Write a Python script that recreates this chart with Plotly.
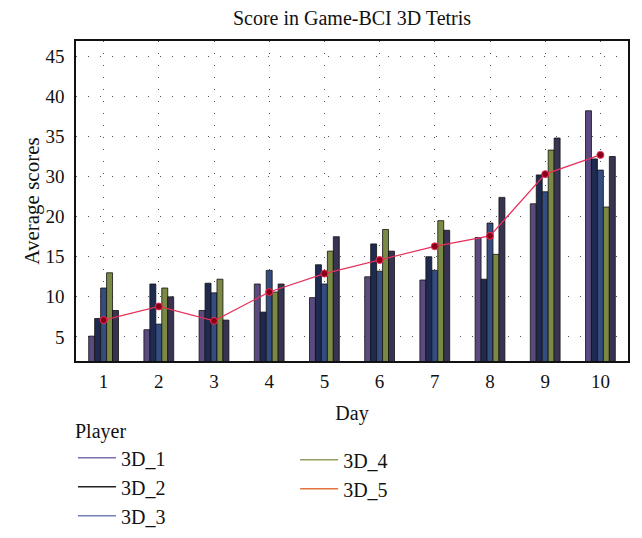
import plotly.graph_objects as go

days = [1, 2, 3, 4, 5, 6, 7, 8, 9, 10]
players = ["3D_1", "3D_2", "3D_3", "3D_4", "3D_5"]
scores_3d_1 = [5.1, 5.9, 8.3, 11.6, 9.9, 12.5, 12.1, 17.4, 21.6, 33.2]
scores_3d_2 = [7.3, 11.6, 11.7, 8.1, 14.0, 16.6, 15.0, 12.2, 25.2, 27.2]
scores_3d_3 = [11.1, 6.6, 10.5, 13.3, 11.6, 13.2, 13.3, 19.2, 23.1, 25.8]
scores_3d_4 = [13.0, 11.1, 12.2, 10.6, 15.7, 18.4, 19.5, 15.3, 28.3, 21.2]
scores_3d_5 = [8.3, 10.0, 7.1, 11.6, 17.5, 15.7, 18.3, 22.4, 29.8, 27.5]
average = [7.1, 8.8, 7.0, 10.6, 12.9, 14.6, 16.3, 17.6, 25.3, 27.7]
ytick_vals = [5, 10, 15, 20, 25, 30, 35, 40]
ytick_text = ["5", "10", "15", "20", "30", "35", "40", "45"]

series = [scores_3d_1, scores_3d_2, scores_3d_3, scores_3d_4, scores_3d_5]
bar_colors = ["#5b4a80", "#1f2a50", "#354c80", "#7a8a45", "#383350"]
legend_colors = ["#7b6fae", "#222222", "#7080b8", "#8fa060", "#e0763c"]

FONT = "Liberation Serif"

fig = go.Figure()
for name, vals, col in zip(players, series, bar_colors):
    fig.add_trace(go.Bar(x=days, y=vals, name=name, marker_color=col,
                         marker_line=dict(color="#111111", width=0.8),
                         showlegend=False))

fig.add_trace(go.Scatter(x=days, y=average, mode="lines+markers",
                         line=dict(color="#e8305a", width=1.2),
                         marker=dict(color="#8a0018", size=7,
                                     line=dict(color="#e8305a", width=1)),
                         showlegend=False))

for i, (name, col) in enumerate(zip(players, legend_colors)):
    fig.add_trace(go.Scatter(x=[None], y=[None], mode="lines", name=name,
                             line=dict(color=col, width=1.5),
                             legendgroup=name,
                             legend="legend" if i < 3 else "legend2"))

# page body has an 8px default margin, so the figure is 8px smaller
fig.update_layout(
    width=634, height=530,
    margin=dict(l=68, r=14, t=33, b=177, autoexpand=False),
    paper_bgcolor="white", plot_bgcolor="white",
    font=dict(family=FONT, size=18, color="#111111"),
    title=dict(text="Score in Game-BCI 3D Tetris", x=0.5, xref="paper",
               xanchor="center", y=0.982, yanchor="middle",
               font=dict(family=FONT, size=20, color="#111111")),
    barmode="group", bargap=0.46, bargroupgap=0,
    legend=dict(title=dict(text="Player", font=dict(size=20)),
                orientation="v", x=-0.0055, xanchor="left", y=-0.16, yanchor="top",
                font=dict(size=20), tracegroupgap=0, itemwidth=38,
                bgcolor="rgba(0,0,0,0)"),
    legend2=dict(orientation="v", x=0.397, xanchor="left", y=-0.248, yanchor="top",
                 font=dict(size=20), tracegroupgap=0, itemwidth=38,
                 bgcolor="rgba(0,0,0,0)"),
)

fig.update_xaxes(range=[0.5, 10.5], tickvals=days, ticktext=[str(d) for d in days],
                 showline=True, linecolor="#111111", linewidth=1.5, mirror=True,
                 showgrid=True, gridcolor="#555555", gridwidth=1, griddash="1px,11px",
                 ticks="", zeroline=False, ticklabelstandoff=2,
                 tickfont=dict(size=19),
                 title=dict(text="Day", standoff=15, font=dict(size=20)))
fig.update_yaxes(range=[2.0, 41.9], tickvals=ytick_vals, ticktext=ytick_text,
                 showline=True, linecolor="#111111", linewidth=1.5, mirror=True,
                 showgrid=True, gridcolor="#555555", gridwidth=1, griddash="1px,11px",
                 ticks="", zeroline=False, ticklabelstandoff=6,
                 tickfont=dict(size=19),
                 title=dict(text="Average scores", standoff=0, font=dict(size=21)))

fig.write_html("out.html")
